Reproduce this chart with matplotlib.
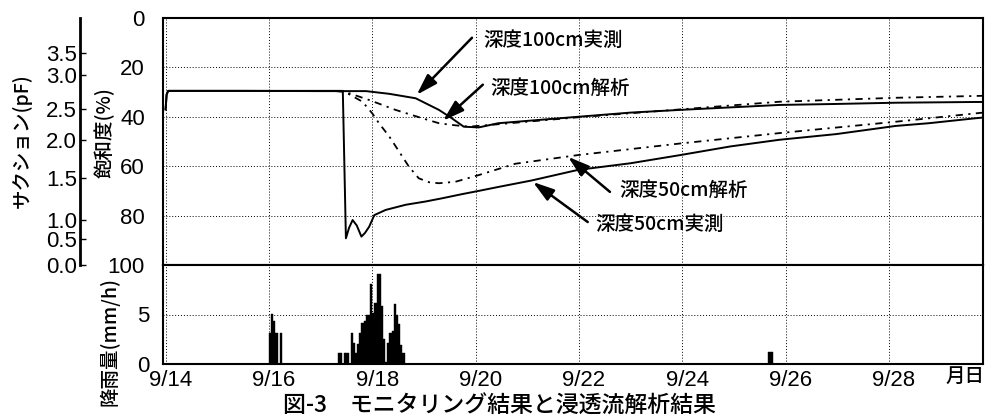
import matplotlib
matplotlib.use('Agg')
import matplotlib.pyplot as plt
import matplotlib.transforms as mtransforms
import numpy as np

plt.rcParams['font.family'] = ['Liberation Sans Narrow', 'Liberation Sans', 'Noto Sans CJK JP', 'DejaVu Sans']
jp = ['Noto Sans CJK JP', 'DejaVu Sans']

# time in days since 9/14 00:00, saturation in %
m100_t = [0.0, 0.02, 0.05, 0.15, 1.5, 3.0, 3.88, 4.33, 4.84, 5.29, 5.54, 5.77, 6.06,
          6.44, 7.98, 9.0, 9.96, 11.88, 12.98, 14.13, 15.67, 15.82]
m100_s = [37, 31, 29.5, 29.5, 29.5, 29.6, 29.6, 30.7, 32.5, 37.2, 40.6, 44, 44.3,
          42.6, 40, 38.3, 37.2, 35.2, 34.8, 34.3, 34, 34]

m50_t = [0.0, 0.02, 0.05, 0.15, 1.5, 3.0, 3.43, 3.49, 3.55, 3.62, 3.70, 3.79, 3.86,
         3.94, 4.04, 4.26, 4.65, 5.03, 5.35, 5.74, 6.06, 6.44, 7.08, 7.98, 9.0, 9.96,
         10.93, 11.88, 12.98, 14.13, 14.77, 15.67, 15.82]
m50_s = [37, 31, 29.5, 29.5, 29.5, 29.5, 29.5, 89.2, 85, 81.8, 84, 88.5, 87,
         84.5, 79.8, 77.7, 75.6, 74.3, 73, 71.3, 70.0, 68.4, 65.8, 61.5, 58.8, 55.5,
         52, 49.3, 47, 43.7, 42.6, 40.6, 40.3]

a100_t = [3.3, 3.46, 3.94, 4.45, 4.97, 5.29, 5.54, 5.87, 6.44, 7.98, 9.96, 11.88, 14.13, 15.82]
a100_s = [29.6, 29.8, 33.2, 37.2, 40.6, 42.6, 43.3, 44, 43, 40.2, 37, 33.9, 32.3, 31.5]

a50_t = [3.3, 3.46, 3.81, 4.0, 4.13, 4.33, 4.52, 4.71, 4.9, 5.1, 5.29, 5.61, 6.06, 6.77,
         7.98, 9.96, 11.88, 14.13, 15.82]
a50_s = [29.6, 29.8, 33.9, 38.6, 42.6, 48, 54.1, 60.2, 64.9, 66.5, 66.9, 66.3, 63.6, 59,
         55.5, 50.8, 46.6, 42, 38.3]

# hourly rainfall (hour since 9/14 00:00, mm/h)
rain_hour = [48, 49, 50, 51, 53,
             80, 81, 83, 84, 86, 87, 88, 89, 90, 91, 92, 93, 94, 95, 96, 97, 98, 99,
             100, 101, 102, 103, 104, 105, 106, 107, 108, 109, 110,
             280, 281]
rain_mm = [3.1, 5.1, 4.3, 3.1, 3.1,
           1.1, 1.1, 1.1, 1.1, 3.1, 2.1, 1.1, 2.0, 3.1, 4.1, 4.3, 5.0, 5.0, 8.1, 5.2, 6.2, 9.1, 9.1,
           5.9, 2.5, 0.2, 2.1, 3.1, 3.3, 6.1, 5.0, 4.0, 1.9, 1.1,
           1.2, 1.2]

sat_ticks = [0, 20, 40, 60, 80, 100]
pf_pos = [14.2, 23.0, 36.9, 49.3, 64.9, 81.8, 89.6, 100]
pf_labels = ['3.5', '3.0', '2.5', '2.0', '1.5', '1.0', '0.5', '0.0']
day_ticks = [0, 2, 4, 6, 8, 10, 12, 14]
day_labels = ['9/14', '9/16', '9/18', '9/20', '9/22', '9/24', '9/26', '9/28']

fig = plt.figure(figsize=(9.95, 4.2), dpi=100)
W, H = 995, 420
ax = fig.add_axes([163 / W, 1 - 265 / H, 820 / W, 247 / H])
axr = fig.add_axes([163 / W, 1 - 364 / H, 820 / W, 99 / H])

grid_kw = dict(color='black', linestyle=(0, (1, 2)), linewidth=0.7)
xlim = (-0.05, 15.82)

# upper panel: saturation
ls_an = (0, (4, 3, 1.2, 3))
ax.plot(m100_t, m100_s, color='black', lw=1.4)
ax.plot(m50_t, m50_s, color='black', lw=1.4)
ax.plot(a100_t, a100_s, color='black', lw=1.3, linestyle=ls_an)
ax.plot(a50_t, a50_s, color='black', lw=1.3, linestyle=ls_an)
ax.set_xlim(*xlim)
ax.set_ylim(100, 0)
ax.set_yticks(sat_ticks)
ax.set_xticks(day_ticks)
ax.set_xticklabels([])
ax.tick_params(axis='both', length=0)
ax.tick_params(axis='y', labelsize=16, pad=13)
ax.grid(True, **grid_kw)
for s in ax.spines.values():
    s.set_linewidth(1.5)

# suction axis on far left
axs = ax.twinx()
axs.set_ylim(100, 0)
axs.yaxis.tick_left()
for k in ['top', 'right', 'bottom']:
    axs.spines[k].set_visible(False)
axs.spines['left'].set_position(('outward', 60))
axs.spines['left'].set_linewidth(2.0)
axs.set_yticks(pf_pos)
axs.set_yticklabels(pf_labels)
axs.tick_params(axis='y', direction='in', length=4, width=1, labelsize=16, pad=2)

# annotations
arrow_kw = dict(arrowstyle='-|>,head_length=0.8,head_width=0.25', color='black',
                lw=1.8, shrinkA=0, shrinkB=0, mutation_scale=16)
notes = [('深度100cm実測', (6.14, 9.2), (5.93, 8.0), (4.86, 31.1)),
         ('深度100cm解析', (6.28, 28.7), (6.14, 27.0), (5.37, 41.6)),
         ('深度50cm解析', (8.79, 70.0), (8.60, 70.4), (7.79, 56.2)),
         ('深度50cm実測', (8.31, 83.4), (8.17, 82.6), (7.11, 66.4))]
for txt, pos, tail, tip in notes:
    ax.annotate('', xy=tip, xytext=tail, arrowprops=arrow_kw)
    ax.text(pos[0], pos[1], txt, ha='left', va='center', fontsize=14,
            family=jp, fontweight='medium')

# lower panel: rainfall
axr.bar(np.array(rain_hour) / 24, rain_mm, width=1 / 24, align='edge',
        color='black', edgecolor='black', linewidth=0.3)
axr.set_xlim(*xlim)
axr.set_ylim(0, 10)
axr.set_yticks([0, 5])
axr.set_xticks(day_ticks)
axr.set_xticklabels(day_labels)
axr.tick_params(axis='both', length=0)
axr.tick_params(axis='y', labelsize=16, pad=10)
axr.tick_params(axis='x', labelsize=16, pad=4)
axr.grid(True, **grid_kw)
for s in axr.spines.values():
    s.set_linewidth(1.5)
off = mtransforms.ScaledTranslation(5 / 100, 0, fig.dpi_scale_trans)
for lab in axr.get_xticklabels():
    lab.set_transform(lab.get_transform() + off)

# labels
lab_kw = dict(ha='center', va='center', fontsize=14, family=jp, fontweight='medium')
fig.text(22 / W, 1 - 141 / H, 'サクション(pF)', rotation=90, **lab_kw)
fig.text(105 / W, 1 - 133 / H, '飽和度(%)', rotation=90, **lab_kw)
fig.text(109 / W, 1 - 342 / H, '降雨量(mm/h)', rotation=90, **lab_kw)
fig.text(965 / W, 1 - 376 / H, '月日', **lab_kw)
fig.text(499 / W, 1 - 406 / H, '図-3　モニタリング結果と浸透流解析結果', ha='center',
         va='center', fontsize=16.5, family=jp, fontweight='medium')

fig.savefig('out.png', dpi=100)
